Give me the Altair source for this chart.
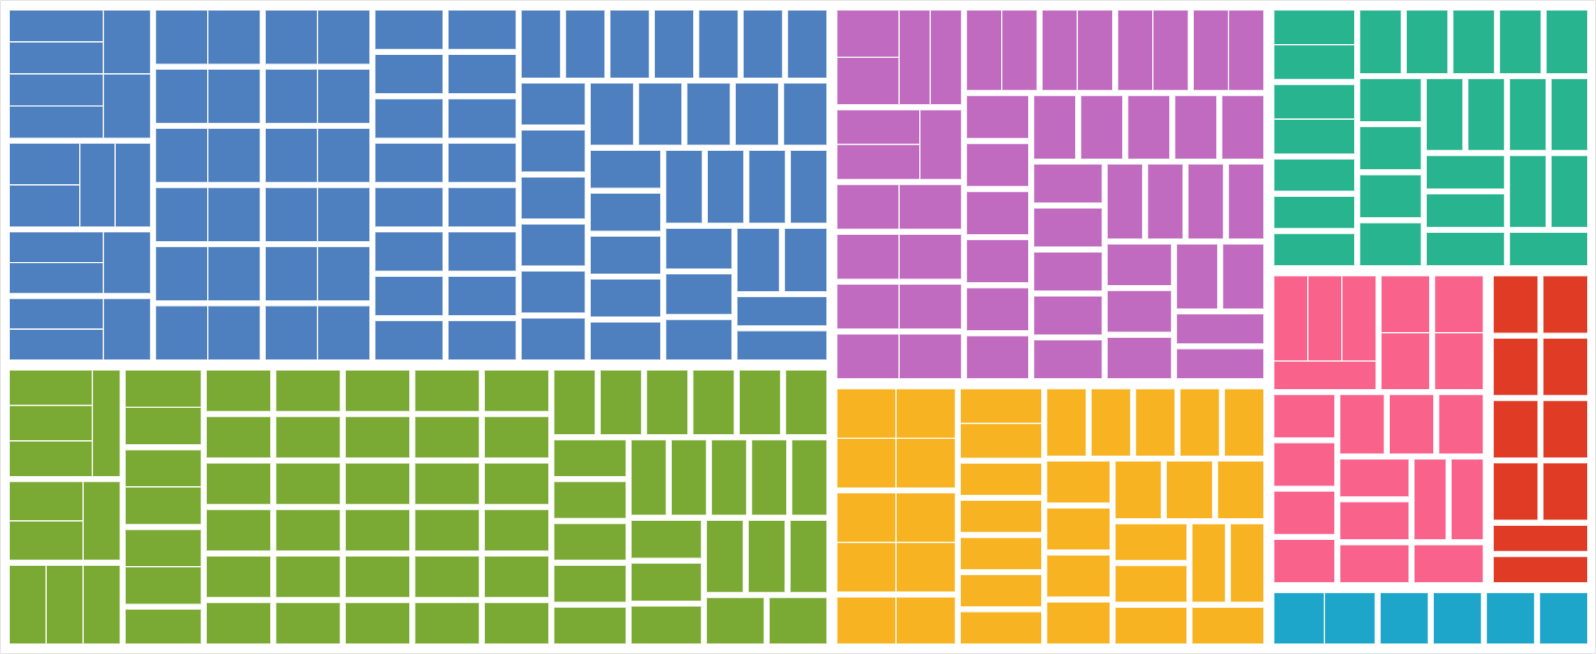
import altair as alt
import pandas as pd

W, H = 1596, 654

# Top-level categories and their colours
group_names = ["Blue", "Green", "Purple", "Orange", "Teal", "Pink", "Red", "Cyan"]
group_colors = ["#4e7fbe", "#7aaa33", "#c06bbf", "#f7b322", "#28b48e", "#f9628b", "#e03b25", "#1da6c9"]

# Children of each category, grouped in treemap rows.
# 1 = a single leaf (value 1); a tuple = a sub-node of unit leaves, given as its row sizes.
blue_rows = [
    [(4, 1, 1), (2, 2), (2, 1), (2, 1)],
    [(1, 1)] * 6,
    [(1, 1)] * 6,
    [1] * 8, [1] * 8, [1] * 7, [1] * 6, [1] * 5, [1] * 5, [1] * 4, [1] * 3, [1] * 2, [1] * 2,
]
green_rows = [
    [(3, 1), (2, 1), (1, 2)],
    [(2,), (2,), (2,), 1],
    [1] * 6, [1] * 6, [1] * 6, [1] * 6, [1] * 6,
    [1] * 6, [1] * 5, [1] * 5, [1] * 3, [1] * 3, [1], [1],
]
purple_rows = [
    [(2, 2), (2, 1), (1, 1), (1, 1), (1, 1), (1, 1)],
    [(2,)] * 4,
    [1] * 6, [1] * 5, [1] * 5, [1] * 4, [1] * 3, [1] * 2, [1] * 2,
]
orange_rows = [
    [(2, 1, 1), (2, 1, 1), (1, 1)],
    [(2,), 1, 1, 1, 1, 1],
    [1] * 5, [1] * 4, [1] * 3, [1] * 3, [1] * 2, [1],
]
teal_rows = [
    [(2,), (2,), 1, 1, 1],
    [1] * 5, [1] * 4, [1] * 4, [1] * 3, [1] * 2, [1],
]
pink_rows = [
    [(3, 1), (1, 1), (1, 1)],
    [1] * 4, [1] * 3, [1] * 3, [1] * 2, [1],
]
red_rows = [[1, 1]] * 5
cyan_rows = [[(1, 1)], [1], [1], [1], [1]]

group_rows = {
    "Blue": blue_rows, "Green": green_rows, "Purple": purple_rows, "Orange": orange_rows,
    "Teal": teal_rows, "Pink": pink_rows, "Red": red_rows, "Cyan": cyan_rows,
}
top_rows = [["Blue", "Green"], ["Purple", "Orange"], ["Teal"], ["Pink", "Red"], ["Cyan"]]


def item_value(it):
    if isinstance(it, str):
        return sum(item_value(c) for row in group_rows[it] for c in row)
    if isinstance(it, int):
        return it
    return sum(it)


def tile(rows, x0, y0, x1, y1, pad):
    """Treemap rows laid along the shorter side of the remaining rectangle."""
    p = pad / 2.0
    x0 -= p; y0 -= p; x1 += p; y1 += p
    remaining = sum(item_value(it) for row in rows for it in row)
    out = []
    for row in rows:
        rv = sum(item_value(it) for it in row)
        dx, dy = x1 - x0, y1 - y0
        if dx < dy:
            h = dy * rv / remaining
            cx = x0
            for it in row:
                w = dx * item_value(it) / rv
                out.append((it, cx + p, y0 + p, cx + w - p, y0 + h - p))
                cx += w
            y0 += h
        else:
            w = dx * rv / remaining
            cy = y0
            for it in row:
                h = dy * item_value(it) / rv
                out.append((it, x0 + p, cy + p, x0 + w - p, cy + h - p))
                cy += h
            x0 += w
        remaining -= rv
    return out


records = []
for g, gx0, gy0, gx1, gy1 in tile(top_rows, 9.3, 10.0, 1587.7, 644.0, 10):
    for it, x0, y0, x1, y1 in tile(group_rows[g], gx0, gy0, gx1, gy1, 5):
        if isinstance(it, int):
            records.append({"group": g, "x": x0, "x2": x1, "y": y0, "y2": y1})
        else:
            sub_rows = [[1] * k for k in it]
            for _, lx0, ly0, lx1, ly1 in tile(sub_rows, x0, y0, x1, y1, 0):
                records.append({"group": g, "x": lx0, "x2": lx1, "y": ly0, "y2": ly1})

df = pd.DataFrame(records)

xs = alt.Scale(domain=[0, W], nice=False, zero=False)
ys = alt.Scale(domain=[0, H], nice=False, zero=False, reverse=True)

cells = alt.Chart(df).mark_rect(stroke="white", strokeWidth=1.4, strokeOpacity=0.7).encode(
    x=alt.X("x:Q", scale=xs, axis=None),
    x2="x2:Q",
    y=alt.Y("y:Q", scale=ys, axis=None),
    y2="y2:Q",
    color=alt.Color("group:N", scale=alt.Scale(domain=group_names, range=group_colors), legend=None),
)

frame = alt.Chart(pd.DataFrame({"a": [0]})).mark_rect(
    fill=None, fillOpacity=0, stroke="#e8e8e8", strokeWidth=1
).encode(x=alt.value(0.5), x2=alt.value(W - 0.5), y=alt.value(0.5), y2=alt.value(H - 0.5))

chart = alt.layer(cells, frame).properties(
    width=W, height=H, padding=0, autosize=alt.AutoSizeParams(type="none"), background="white"
).configure_view(strokeWidth=0)

chart.save("out.html", embed_options={"renderer": "svg", "actions": False})
